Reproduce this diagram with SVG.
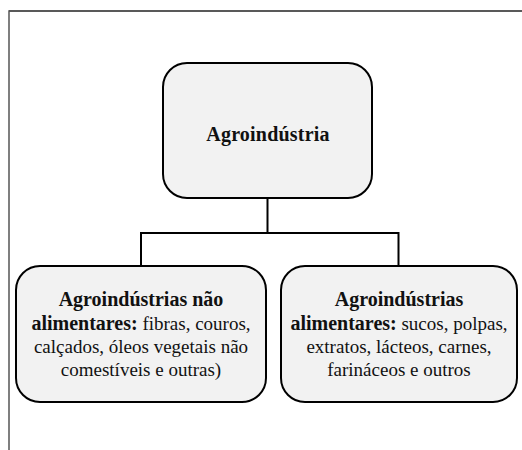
<svg xmlns="http://www.w3.org/2000/svg" width="522" height="450" viewBox="0 0 522 450">
<style>
.box{fill:#f2f2f2;stroke:#000;stroke-width:2}
.t{font-family:'Liberation Serif','DejaVu Serif',serif;font-size:19px;fill:#111;text-anchor:middle}
.b{font-weight:bold;font-size:20px}
.conn{fill:none;stroke:#000;stroke-width:2}
</style>
<rect width="522" height="450" fill="#fff"/>
<g id="frame">
<line x1="9" y1="11" x2="522" y2="11" stroke="#222" stroke-width="1.5"/>
<line x1="9" y1="10.3" x2="9" y2="450" stroke="#555" stroke-width="1.5"/>
</g>
<g id="connectors">
<path class="conn" d="M267.5 198V233M141 233H398.5M141 232V266M398.5 232V266"/>
</g>
<g id="node-root">
<rect class="box" x="163" y="63" width="209" height="135" rx="24"/>
<text class="t b" x="268" y="141" letter-spacing="0.2">Agroindústria</text>
</g>
<g id="node-nao-alimentares">
<rect class="box" x="16" y="266" width="250" height="136" rx="24"/>
<text class="t" x="141" y="305.5"><tspan class="b">Agroindústrias não</tspan></text>
<text class="t" x="141" y="329.5"><tspan class="b">alimentares:</tspan> fibras, couros,</text>
<text class="t" x="141" y="353">calçados, óleos vegetais não</text>
<text class="t" x="141" y="376">comestíveis e outras)</text>
</g>
<g id="node-alimentares">
<rect class="box" x="281" y="266" width="236" height="136" rx="24"/>
<text class="t" x="399" y="305.5"><tspan class="b">Agroindústrias</tspan></text>
<text class="t" x="399" y="329.5"><tspan class="b">alimentares:</tspan> sucos, polpas,</text>
<text class="t" x="399" y="353">extratos, lácteos, carnes,</text>
<text class="t" x="399" y="376">farináceos e outros</text>
</g>
</svg>
